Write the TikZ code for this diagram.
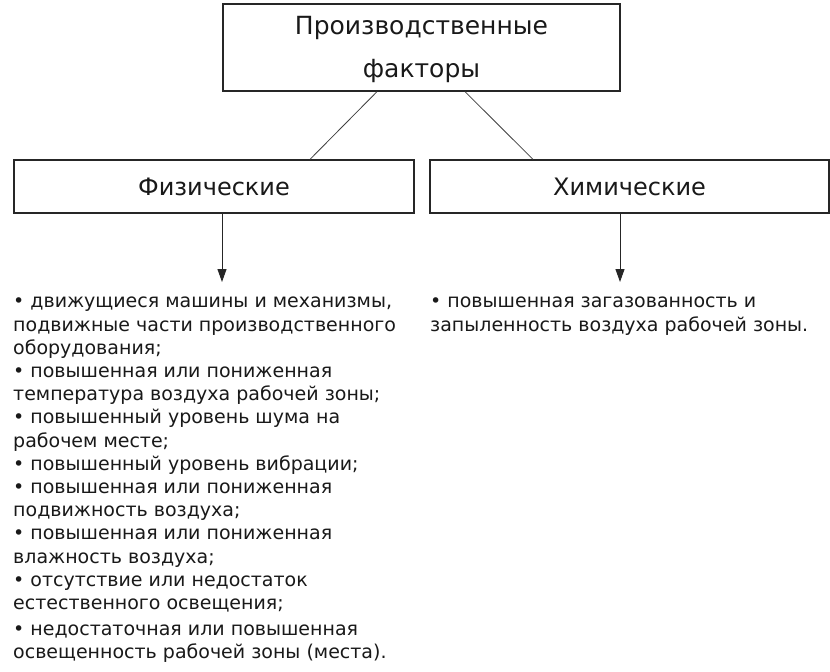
\documentclass[tikz,border=0pt]{standalone}
\usepackage{fontspec}
\setmainfont{DejaVu Sans}
\usetikzlibrary{arrows.meta,calc}
\begin{document}
\begin{tikzpicture}[x=1pt,y=-1pt,
  box/.style={draw=black!85, line width=1.3pt, inner sep=0pt, text=black!90, align=center},
  conn/.style={draw=black!75, line width=0.8pt},
  arr/.style={draw=black!85, line width=1pt, -{Triangle[length=13pt,width=9pt]}},
  listtext/.style={inner sep=0pt, anchor=north west, align=left, text=black!90,
    font=\fontsize{19}{23.2}\selectfont}]
\useasboundingbox (0,0) rectangle (830,672);
\fill[white] (0,0) rectangle (830,672);
\node[box, minimum width=397pt, minimum height=87pt,
  font=\fontsize{25}{43}\selectfont] (top) at (421.5,47.5) {\rule{0pt}{23pt}Производственные\\факторы};
\node[box, minimum width=400pt, minimum height=53pt,
  font=\fontsize{24}{28}\selectfont] (phys) at (214,186.5) {Физические};
\node[box, minimum width=399pt, minimum height=53pt,
  font=\fontsize{24}{28}\selectfont] (chem) at (629.5,186.5) {Химические};
\draw[conn] ([xshift=-44.5pt]top.south) -- ([xshift=96pt]phys.north);
\draw[conn] ([xshift=43.5pt]top.south) -- ([xshift=-96.5pt]chem.north);
\coordinate (pe) at (222,282);
\coordinate (ce) at (620,282);
\draw[arr] (phys.south -| pe) -- (pe);
\draw[arr] (chem.south -| ce) -- (ce);
\node[listtext] (plist) at (13,291.5) {\strut• движущиеся машины и механизмы,\\
подвижные части производственного\\
оборудования;\\
• повышенная или пониженная\\
температура воздуха рабочей зоны;\\
• повышенный уровень шума на\\
рабочем месте;\\
• повышенный уровень вибрации;\\
• повышенная или пониженная\\
подвижность воздуха;\\
• повышенная или пониженная\\
влажность воздуха;\\
• отсутствие или недостаток\\
естественного освещения;\\[3pt]
• недостаточная или повышенная\\
освещенность рабочей зоны (места).};
\node[listtext] (clist) at (430,291.5) {\strut• повышенная загазованность и\\
запыленность воздуха рабочей зоны.};
\end{tikzpicture}
\end{document}
